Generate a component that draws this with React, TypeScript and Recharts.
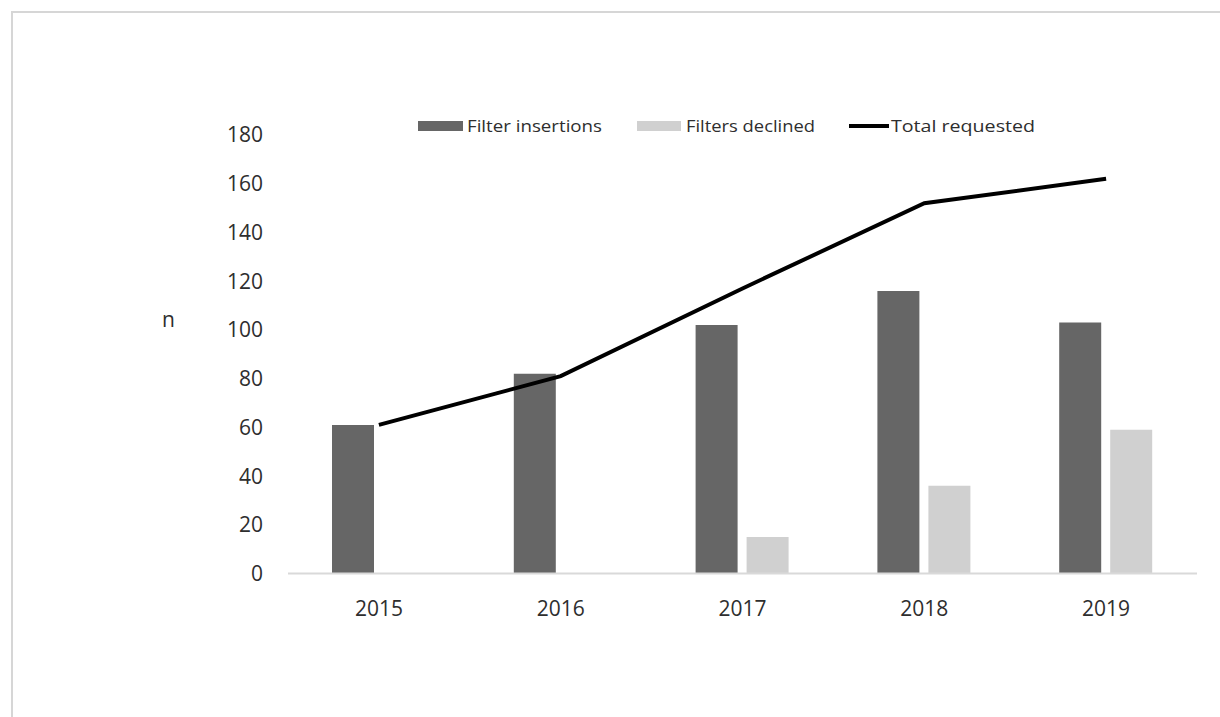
import {
  ComposedChart,
  Bar,
  Line,
  XAxis,
  YAxis,
  Legend,
} from "recharts";

const YEARS = ["2015", "2016", "2017", "2018", "2019"];
const INSERTIONS = [61, 82, 102, 116, 103];
const DECLINED = [0, 0, 15, 36, 59];
const TOTAL = [61, 81, 117, 152, 162];
const Y_TICKS = [0, 20, 40, 60, 80, 100, 120, 140, 160, 180];

const DARK = "#666666";
const LIGHT = "#d0d0d0";
const TEXT = "#2e2e2e";
const FONT = "'Open Sans', sans-serif";

const data = YEARS.map((year, i) => ({
  year,
  insertions: INSERTIONS[i],
  declined: DECLINED[i],
  total: TOTAL[i],
}));

/* legend drawn by hand so the squashed Excel lettering can be matched */
function ChartLegend() {
  const text = (x: number, w: number, label: string) => (
    <text
      x={x}
      y={126}
      dy="0.35em"
      fontSize={17}
      fill={TEXT}
      fontFamily={FONT}
      textLength={w}
      lengthAdjust="spacingAndGlyphs"
    >
      {label}
    </text>
  );
  return (
    <svg width={1220} height={30} viewBox="0 111 1220 30" style={{ display: "block" }}>
      <rect x={418} y={121} width={45} height={10} fill={DARK} />
      {text(467, 135, "Filter insertions")}
      <rect x={637} y={121} width={44} height={10} fill={LIGHT} />
      {text(686, 129, "Filters declined")}
      <line x1={849} y1={126} x2={889} y2={126} stroke="#000" strokeWidth={4} />
      {text(891, 144, "Total requested")}
    </svg>
  );
}

export default function App() {
  return (
    <div style={{ position: "relative", width: 1220, height: 717, background: "#fff" }}>
      <style>{"body{margin:0}"}</style>
      <div
        style={{
          position: "absolute",
          left: 11,
          top: 11,
          right: 0,
          bottom: 0,
          borderTop: "2px solid #d6d6d6",
          borderLeft: "2px solid #d6d6d6",
        }}
      />
      <ComposedChart
        width={1220}
        height={717}
        data={data}
        margin={{ top: 135, right: 23, left: 0, bottom: 113.5 }}
        barGap={9}
        style={{ position: "absolute", left: 0, top: 0, fontFamily: FONT }}
      >
        <XAxis
          dataKey="year"
          height={30}
          axisLine={{ stroke: "#d9d9d9", strokeWidth: 2 }}
          tickLine={false}
          tickSize={0}
          tickMargin={28}
          tick={{ fill: TEXT, fontSize: 21 }}
        />
        <YAxis
          width={288}
          domain={[0, 180]}
          ticks={Y_TICKS}
          axisLine={false}
          tickLine={false}
          tickSize={0}
          tickMargin={25}
          tick={{ fill: TEXT, fontSize: 21 }}
          label={{
            value: "n",
            position: "insideLeft",
            offset: 162,
            dy: -35,
            fill: TEXT,
            fontSize: 21,
          }}
        />
        <Legend
          layout="horizontal"
          verticalAlign="middle"
          content={() => <ChartLegend />}
          wrapperStyle={{ position: "absolute", top: 111, left: 0, width: 1220, height: 30 }}
        />
        <Bar dataKey="insertions" name="Filter insertions" fill={DARK} barSize={42} isAnimationActive={false} />
        <Bar dataKey="declined" name="Filters declined" fill={LIGHT} barSize={42} isAnimationActive={false} />
        <Line
          type="linear"
          dataKey="total"
          name="Total requested"
          stroke="#000"
          strokeWidth={4}
          dot={false}
          activeDot={false}
          isAnimationActive={false}
        />
      </ComposedChart>
    </div>
  );
}
